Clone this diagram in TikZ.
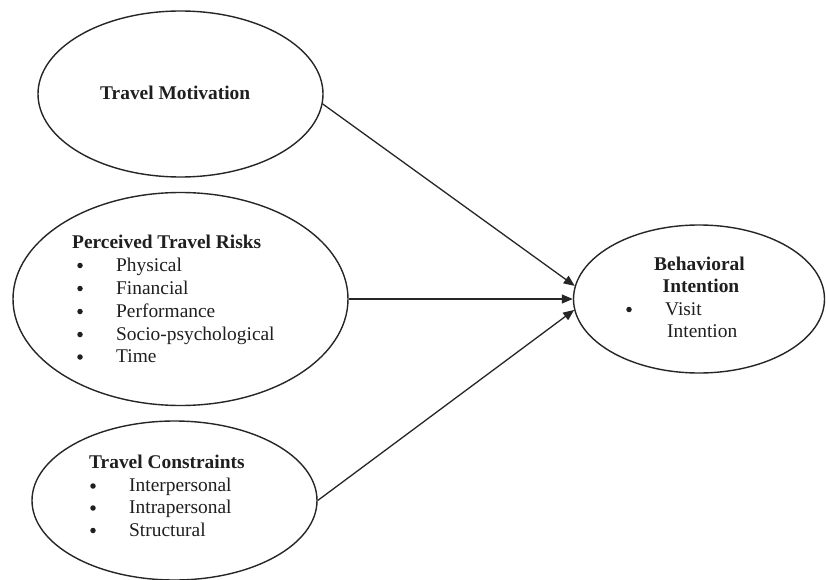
\documentclass[tikz,border=0pt]{standalone}
\usepackage{fontspec}
\setmainfont{Liberation Serif}
\usetikzlibrary{shapes.geometric,arrows.meta}
\begin{document}
\begin{tikzpicture}[x=1pt,y=-1pt,
  oval/.style={draw=black!85, line width=1.4pt, ellipse, inner sep=0pt},
  txt/.style={anchor=base west, inner sep=0pt, font=\fontsize{19.4}{22.8}\selectfont, text=black!88},
  hd/.style={txt, font=\fontsize{19.4}{22.8}\selectfont\bfseries},
  hdc/.style={hd, anchor=base},
  bul/.style={circle, fill=black!88, inner sep=0pt, minimum size=5.5pt, yshift=5.5pt},
  arr/.style={draw=black!85, line width=1.3pt, -{Triangle[length=11pt,width=9pt]}}]
\useasboundingbox (0,0) rectangle (826,580);
\fill[white] (0,0) rectangle (826,580);

% ellipses
\node[oval, minimum width=285pt, minimum height=166pt] (tm) at (180.5,94) {};
\node[oval, minimum width=335pt, minimum height=213pt] (ptr) at (180.5,299) {};
\node[oval, minimum width=285pt, minimum height=159pt] (tc) at (174.5,500.5) {};
\node[oval, minimum width=251pt, minimum height=148pt] (bi) at (699,299) {};

% Travel Motivation
\node[hd] (tmt) at (100,100) {Travel Motivation};

% Perceived Travel Risks
\node[hd] (ptrt) at (72,248) {Perceived Travel Risks};
\node[bul] (pb1) at (80,271) {};
\node[txt] (pi1) at (116,271) {Physical};
\node[bul] (pb2) at (80,294) {};
\node[txt] (pi2) at (116,294) {Financial};
\node[bul] (pb3) at (80,317) {};
\node[txt] (pi3) at (116,317) {Performance};
\node[bul] (pb4) at (80,340) {};
\node[txt] (pi4) at (116,340) {Socio-psychological};
\node[bul] (pb5) at (80,362.5) {};
\node[txt] (pi5) at (116,362.5) {Time};

% Travel Constraints
\node[hd] (tct) at (89,468) {Travel Constraints};
\node[bul] (cb1) at (93,491.5) {};
\node[txt] (ci1) at (129,491.5) {Interpersonal};
\node[bul] (cb2) at (93,513.5) {};
\node[txt] (ci2) at (129,513.5) {Intrapersonal};
\node[bul] (cb3) at (93,536) {};
\node[txt] (ci3) at (129,536) {Structural};

% Behavioral Intention
\node[hdc] (bit1) at (699.5,270) {Behavioral};
\node[hdc] (bit2) at (701,292) {Intention};
\node[bul] (bb1) at (629,315) {};
\node[txt] (bi1) at (665,315) {Visit};
\node[txt] (bi2) at (667,337) {Intention};

% arrows
\draw[arr] (tm.-4) -- (bi.174.5);
\draw[arr] (ptr.east) -- (ptr.east -| bi.west);
\draw[arr] (tc.east) -- (bi.185.5);
\end{tikzpicture}
\end{document}
